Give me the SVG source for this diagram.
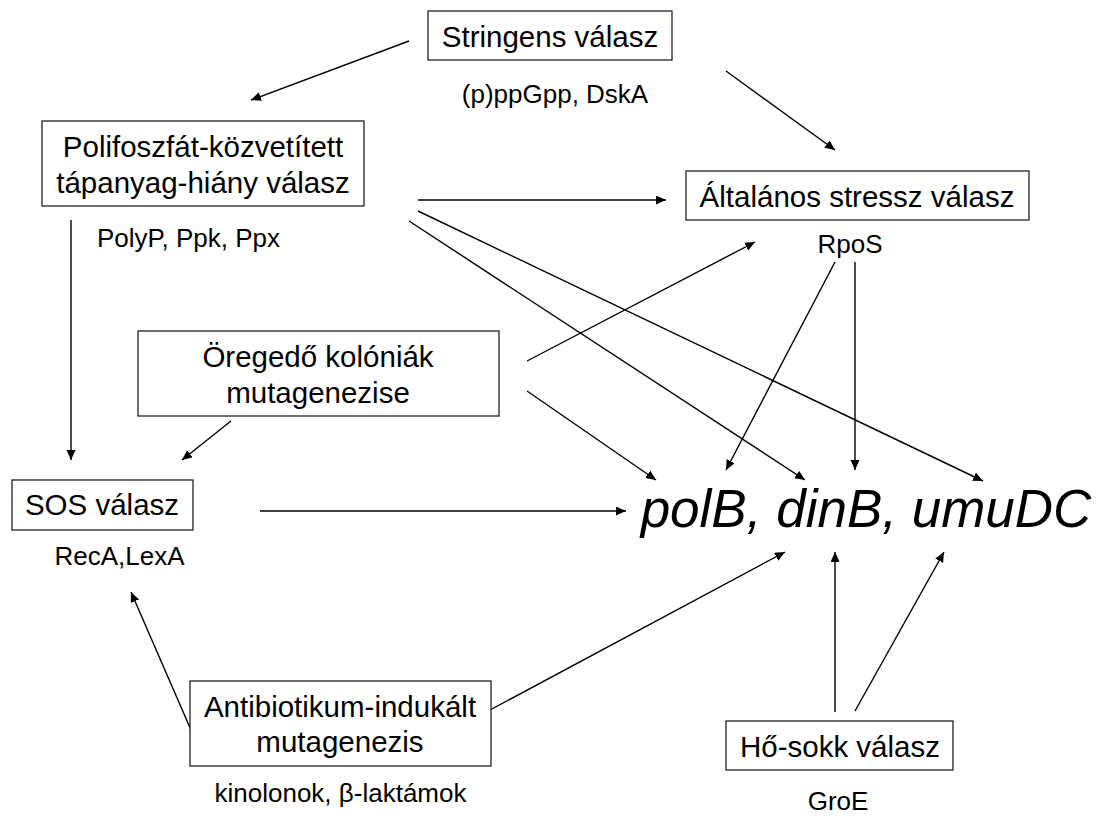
<svg xmlns="http://www.w3.org/2000/svg" width="1101" height="816" viewBox="0 0 1101 816">
<style>
.box{fill:#fff;stroke:#222;stroke-width:1.3}
.t{font-family:"Liberation Sans",Arial,sans-serif;font-size:29.5px;fill:#000;text-anchor:middle}
.s{font-family:"Liberation Sans",Arial,sans-serif;font-size:26px;fill:#000;text-anchor:middle}
.big{font-family:"Liberation Sans",Arial,sans-serif;font-size:53px;font-style:italic;fill:#000;text-anchor:middle}
.c line{stroke:#000;stroke-width:1.4;marker-end:url(#ah)}
</style>
<defs>
<marker id="ah" markerUnits="userSpaceOnUse" markerWidth="11" markerHeight="10" refX="10" refY="4.5" orient="auto">
<path d="M0,0 L10,4.5 L0,9 z" fill="#000"/>
</marker>
</defs>
<rect width="1101" height="816" fill="#fff"/>
<g id="connectors" class="c">
<line x1="409" y1="41" x2="251" y2="100"/>
<line x1="726" y1="71" x2="835" y2="150"/>
<line x1="418" y1="200" x2="666" y2="200"/>
<line x1="418" y1="211" x2="983" y2="481"/>
<line x1="409" y1="221" x2="805" y2="480"/>
<line x1="71" y1="220" x2="71" y2="460"/>
<line x1="527" y1="361" x2="755" y2="242"/>
<line x1="527" y1="391" x2="656" y2="480"/>
<line x1="231" y1="421" x2="182" y2="460"/>
<line x1="835" y1="262" x2="726" y2="470"/>
<line x1="855" y1="262" x2="855" y2="470"/>
<line x1="260" y1="511" x2="626" y2="511"/>
<line x1="191" y1="730" x2="131" y2="592"/>
<line x1="490" y1="710" x2="785" y2="552"/>
<line x1="835" y1="712" x2="835" y2="552"/>
<line x1="855" y1="711" x2="944" y2="552"/>
</g>
<g id="stringens">
<rect class="box" x="428" y="11" width="244" height="49"/>
<text class="t" x="550" y="47">Stringens válasz</text>
<text class="s" x="555" y="103">(p)ppGpp, DskA</text>
</g>
<g id="polifoszfat">
<rect class="box" x="42" y="121" width="322" height="85"/>
<text class="t" x="203" y="157">Polifoszfát-közvetített</text>
<text class="t" x="203" y="193">tápanyag-hiány válasz</text>
<text class="s" x="188.5" y="247">PolyP, Ppk, Ppx</text>
</g>
<g id="altalanos">
<rect class="box" x="686" y="171" width="343" height="49"/>
<text class="t" x="857" y="207">Általános stressz válasz</text>
<text class="s" x="850" y="253">RpoS</text>
</g>
<g id="oregedo">
<rect class="box" x="138" y="331" width="361" height="85"/>
<text class="t" x="318" y="367">Öregedő kolóniák</text>
<text class="t" x="318" y="403">mutagenezise</text>
</g>
<g id="sos">
<rect class="box" x="12" y="480" width="181" height="50"/>
<text class="t" x="102" y="515">SOS válasz</text>
<text class="s" x="119.5" y="565">RecA,LexA</text>
</g>
<g id="genes">
<text class="big" x="866" y="527">polB, dinB, umuDC</text>
</g>
<g id="antibiotikum">
<rect class="box" x="190" y="681" width="301" height="85"/>
<text class="t" x="340" y="717">Antibiotikum-indukált</text>
<text class="t" x="340" y="752">mutagenezis</text>
<text class="s" x="340.5" y="802">kinolonok, β-laktámok</text>
</g>
<g id="hosokk">
<rect class="box" x="726" y="721" width="227" height="49"/>
<text class="t" x="840" y="757">Hő-sokk válasz</text>
<text class="s" x="838" y="810">GroE</text>
</g>
</svg>
